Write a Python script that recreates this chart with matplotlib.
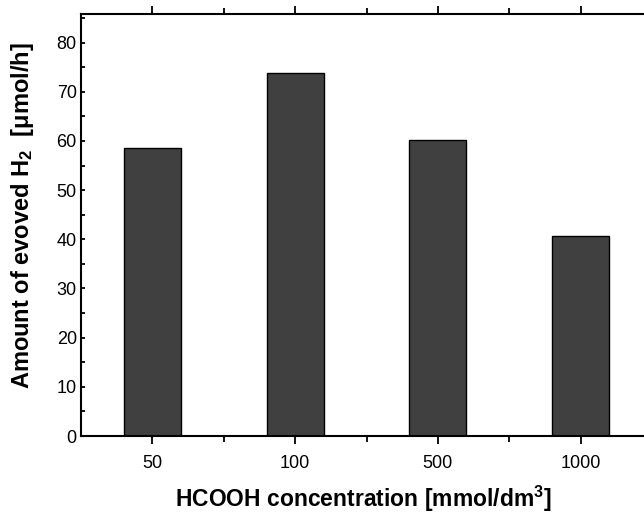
import matplotlib
matplotlib.use("Agg")
import matplotlib.pyplot as plt
from matplotlib.ticker import MultipleLocator, FixedLocator

plt.rcParams['font.family'] = ['Liberation Sans', 'DejaVu Sans']
plt.rcParams['mathtext.fontset'] = 'custom'
plt.rcParams['mathtext.rm'] = 'Liberation Sans'
plt.rcParams['mathtext.bf'] = 'Liberation Sans:bold'
plt.rcParams['mathtext.it'] = 'Liberation Sans:italic'

categories = ["50", "100", "500", "1000"]
values = [58.5, 73.8, 60.2, 40.7]

fig = plt.figure(figsize=(6.44, 5.13), dpi=100)
ax = fig.add_axes([0.1258, 0.150, 0.8866, 0.8226])

x = list(range(len(categories)))
ax.bar(x, values, width=0.4, color="#404040", edgecolor="black", linewidth=1.0)

ax.set_xlim(-0.5, 3.5)
ax.set_ylim(0, 85.8)
ax.set_xticks(x)
ax.set_xticklabels(categories)
ax.xaxis.set_minor_locator(FixedLocator([0.5, 1.5, 2.5]))
ax.yaxis.set_major_locator(MultipleLocator(10))
ax.yaxis.set_minor_locator(MultipleLocator(5))

for s in ax.spines.values():
    s.set_linewidth(1.5)
ax.spines['right'].set_visible(False)

ax.tick_params(axis='both', which='major', direction='out', length=6, width=1.3,
               labelsize=13, pad=8)
ax.tick_params(axis='both', which='minor', direction='out', length=4, width=1.3)
ax.tick_params(axis='y', which='major', pad=3)
ax.tick_params(top=True, which='both', direction='in', length=3)
ax.tick_params(axis='x', which='major', bottom=True, direction='out', length=6)
ax.tick_params(axis='x', which='minor', bottom=True, direction='out', length=4)

ax.set_xlabel(r"HCOOH concentration [mmol/dm$^{\mathbf{3}}$]", fontsize=16.5,
              fontweight='bold')
ax.set_ylabel("Amount of evoved H$_{\\mathbf{2}}$  [μmol/h]", fontsize=17,
              fontweight='bold')
ax.xaxis.set_label_coords((363 - 81) / (652 - 81), -(499 - 436) / 422, transform=ax.transAxes)
ax.yaxis.set_label_coords(-(81 - 22) / (652 - 81), (436 - 216) / 422, transform=ax.transAxes)
ax.xaxis.label.set_va('center')
ax.yaxis.label.set_va('center')

fig.savefig("out.png", dpi=100)
